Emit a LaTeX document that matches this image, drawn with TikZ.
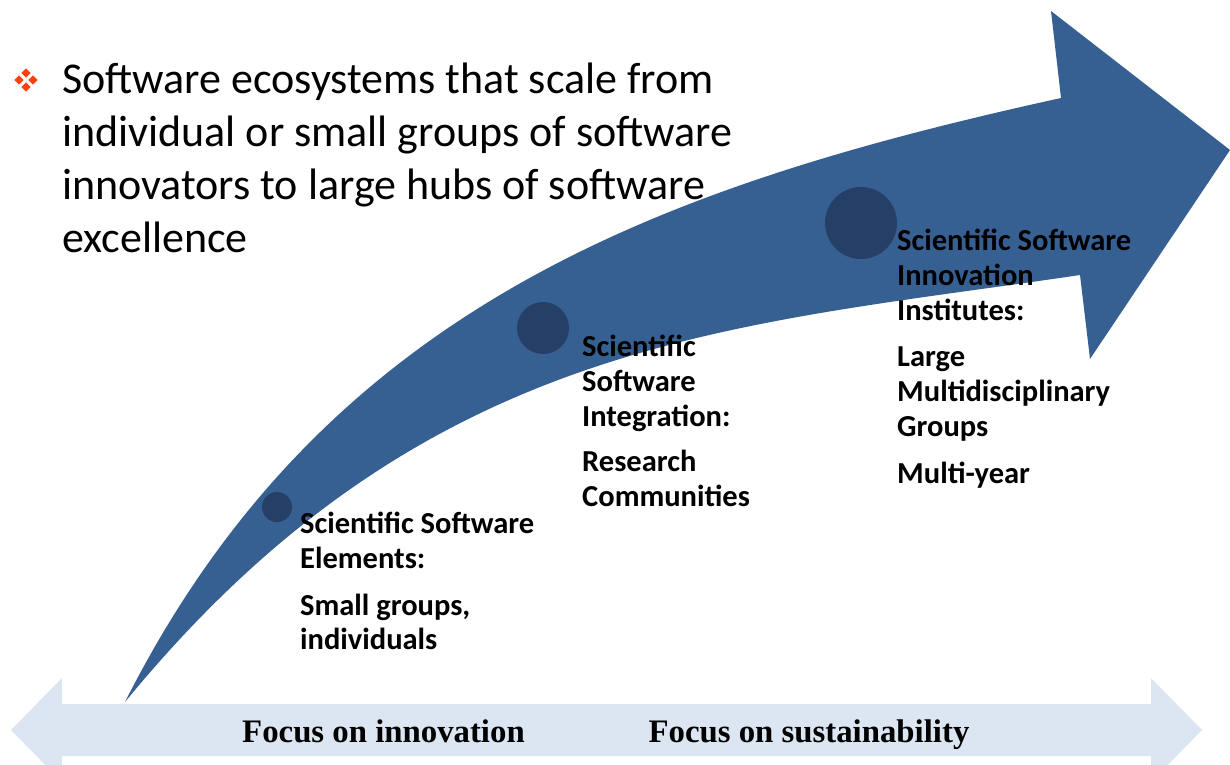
\documentclass[tikz,border=0pt]{standalone}
\usepackage{fontspec}
\setmainfont{Carlito}
\newfontfamily\timesfont{Liberation Serif}
\definecolor{band}{RGB}{55,96,146}
\definecolor{dot}{RGB}{38,63,102}
\definecolor{pale}{RGB}{220,230,242}
\definecolor{bul}{RGB}{250,65,15}
\tikzset{
  bigline/.style={anchor=base west, inner sep=0pt, font=\fontsize{44}{52}\selectfont},
  lab/.style={anchor=base west, inner sep=0pt, font=\fontsize{30.5}{35}\selectfont\bfseries},
  focus/.style={anchor=base, inner sep=0pt, font=\timesfont\bfseries\fontsize{32.8}{38}\selectfont},
  stop/.style={circle, fill=dot, inner sep=0pt}
}
\begin{document}
\begin{tikzpicture}[x=1pt,y=-1pt]
\useasboundingbox (0,0) rectangle (1230,764);
\clip (0,0) rectangle (1230,764);
\fill[white] (0,0) rectangle (1230,764);
% bottom double arrow
\fill[pale] (11,730) -- (62,678) -- (62,704) -- (1151,704) -- (1151,678) -- (1202,730)
  -- (1151,782) -- (1151,756) -- (62,756) -- (62,782) -- cycle;
% curved arrow
\fill[band] (125,702) .. controls (325,306) and (661,186) .. (1061,98) -- (1051,11) -- (1230,150)
  -- (1090,359) -- (1080,275) .. controls (730,327) and (425,336) .. (125,702) -- cycle;
% stops
\node[stop, minimum size=30pt] (c1) at (277,507) {};
\node[stop, minimum size=52pt] (c2) at (543,328) {};
\node[stop, minimum size=72pt] (c3) at (861,223) {};
% bullet
\foreach \dx/\dy in {0/-7,-7/0,7/0,0/7}
  \fill[bul] (26+\dx,80+\dy) +(0,-4.6) -- +(4.6,0) -- +(0,4.6) -- +(-4.6,0) -- cycle;
% heading text
\node[bigline] (t1) at (62,93) {Software ecosystems that scale from};
\node[bigline] (t2) at (62,146) {individual or small groups of software};
\node[bigline] (t3) at (62,199) {innovators to large hubs of software};
\node[bigline] (t4) at (62,252) {excellence};
% label 1
\node[lab] (a1) at (300,533) {Scientific Software};
\node[lab] (a2) at (300,568) {Elements:};
\node[lab] (a3) at (300,615) {Small groups,};
\node[lab] (a4) at (300,649) {individuals};
% label 2
\node[lab] (b1) at (582,356) {Scientific};
\node[lab] (b2) at (582,391) {Software};
\node[lab] (b3) at (582,426) {Integration:};
\node[lab] (b4) at (582,471) {Research};
\node[lab] (b5) at (582,506) {Communities};
% label 3
\node[lab] (d1) at (897,250) {Scientific Software};
\node[lab] (d2) at (897,285) {Innovation};
\node[lab] (d3) at (897,320) {Institutes:};
\node[lab] (d4) at (897,366) {Large};
\node[lab] (d5) at (897,401) {Multidisciplinary};
\node[lab] (d6) at (897,436) {Groups};
\node[lab] (d7) at (897,483) {Multi-year};
% focus labels
\node[focus] (f1) at (383.5,742) {Focus on innovation};
\node[focus] (f2) at (809,742) {Focus on sustainability};
\end{tikzpicture}
\end{document}
